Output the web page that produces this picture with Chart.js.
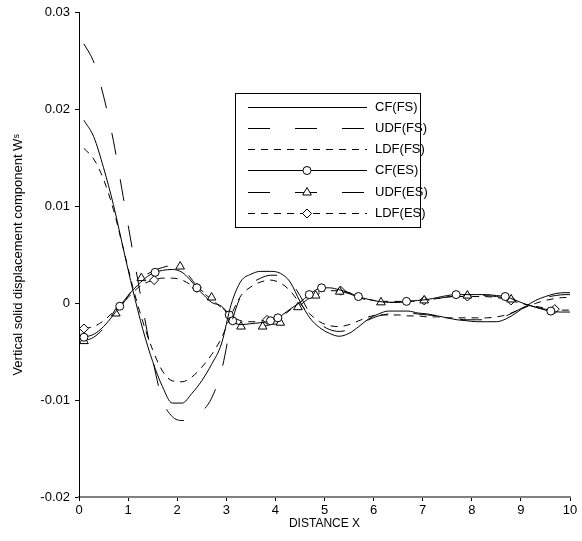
<!DOCTYPE html>
<html>
<head>
<meta charset="utf-8">
<script src="https://cdn.jsdelivr.net/npm/chart.js"></script>
<style>
  html, body { margin: 0; padding: 0; background: #fff; }
  #wrap { width: 582px; height: 541px; }
</style>
</head>
<body>
<div id="wrap"><canvas id="dispChart" width="582" height="541"></canvas></div>
<script>
// distance samples for the full-space (FS) curves
const fsX = [0.1, 0.3, 0.5, 0.7, 0.9, 1.1, 1.3, 1.5, 1.7, 1.9, 2.1, 2.3, 2.5, 2.7, 2.9, 3.1, 3.3, 3.5, 3.7, 3.9,
             4.1, 4.3, 4.5, 4.7, 4.9, 5.1, 5.3, 5.5, 5.7, 5.9, 6.1, 6.3, 6.5, 6.7, 6.9, 7.1, 7.3, 7.5, 7.7, 7.9,
             8.1, 8.3, 8.5, 8.7, 8.9, 9.1, 9.3, 9.5, 9.7, 9.9, 10.0];

const cfFs = [0.0189, 0.0172, 0.0140, 0.0102, 0.0057, 0.0013, -0.0027, -0.0060, -0.0086, -0.0103,
              -0.0103, -0.0093, -0.0080, -0.0063, -0.0042, -0.0001, 0.0023, 0.0030, 0.0033, 0.0033,
              0.0031, 0.0022, 0.0002, -0.0015, -0.0025, -0.0031, -0.0034, -0.0031, -0.0024, -0.0016,
              -0.0011, -0.0008, -0.0008, -0.0008, -0.0010, -0.0011, -0.0013, -0.0015, -0.0017, -0.0018,
              -0.0019, -0.0019, -0.0019, -0.0016, -0.0010, -0.0003, 0.0003, 0.0007, 0.0010, 0.0011, 0.0011];

const udfFs = [0.0268, 0.0249, 0.0214, 0.0168, 0.0110, 0.0052, -0.0005, -0.0058, -0.0100, -0.0117,
               -0.0121, -0.0119, -0.0112, -0.0098, -0.0070, -0.0022, 0.0008, 0.0020, 0.0026, 0.0029,
               0.0029, 0.0023, 0.0008, -0.0010, -0.0021, -0.0027, -0.0029, -0.0027, -0.0022, -0.0017,
               -0.0013, -0.0011, -0.0010, -0.0010, -0.0011, -0.0012, -0.0013, -0.0014, -0.0016, -0.0017,
               -0.0017, -0.0017, -0.0016, -0.0013, -0.0008, -0.0003, 0.0002, 0.0006, 0.0008, 0.0009, 0.0009];

const ldfFs = [0.0160, 0.0149, 0.0128, 0.0097, 0.0057, 0.0016, -0.0019, -0.0048, -0.0070, -0.0080,
               -0.0081, -0.0076, -0.0066, -0.0053, -0.0036, -0.0012, 0.0008, 0.0017, 0.0022, 0.0024,
               0.0021, 0.0013, 0.0000, -0.0011, -0.0019, -0.0023, -0.0024, -0.0022, -0.0018, -0.0014,
               -0.0012, -0.0012, -0.0012, -0.0013, -0.0013, -0.0014, -0.0014, -0.0015, -0.0015, -0.0015,
               -0.0015, -0.0015, -0.0014, -0.0012, -0.0008, -0.0004, 0.0000, 0.0003, 0.0005, 0.0006, 0.0006];

// elastic-soil (ES) curves, each with its own distance samples and marked points
const cfEsX = [0.1, 0.3, 0.5, 0.7, 0.83, 1.0, 1.2, 1.4, 1.55, 1.7, 1.9, 2.1, 2.25, 2.4, 2.55, 2.7, 2.9, 3.06,
               3.13, 3.3, 3.5, 3.7, 3.9, 4.05, 4.3, 4.5, 4.69, 4.94, 5.1, 5.3, 5.5, 5.69, 5.9, 6.1, 6.3, 6.5,
               6.67, 6.9, 7.1, 7.3, 7.5, 7.68, 7.9, 8.1, 8.3, 8.5, 8.68, 8.9, 9.1, 9.3, 9.5, 9.61, 9.8, 10.0];
const cfEsY = [-0.0035, -0.0032, -0.0024, -0.0012, -0.0003, 0.0008, 0.0019, 0.0028, 0.0032, 0.0034, 0.0035,
               0.0032, 0.0025, 0.0016, 0.0008, 0.0001, -0.0003, -0.0012, -0.0018, -0.0022, -0.0021, -0.0020,
               -0.0018, -0.0015, -0.0006, 0.0001, 0.0009, 0.0016, 0.0016, 0.0014, 0.0011, 0.0007, 0.0004,
               0.0002, 0.0001, 0.0001, 0.0002, 0.0003, 0.0004, 0.0006, 0.0008, 0.0009, 0.0009, 0.0009, 0.0009,
               0.0008, 0.0007, 0.0003, -0.0001, -0.0004, -0.0007, -0.0008, -0.0009, -0.0009];
const cfEsMarks = [0.1, 0.83, 1.55, 2.4, 3.06, 3.13, 3.9, 4.05, 4.69, 4.94, 5.69, 6.67, 7.68, 8.68, 9.61];

const udfEsX = [0.1, 0.3, 0.5, 0.75, 0.9, 1.1, 1.27, 1.5, 1.7, 1.9, 2.06, 2.2, 2.4, 2.55, 2.7, 2.9, 3.1, 3.3,
                3.5, 3.74, 3.9, 4.1, 4.3, 4.46, 4.65, 4.82, 5.0, 5.31, 5.5, 5.7, 5.9, 6.15, 6.4, 6.7, 7.03,
                7.3, 7.6, 7.91, 8.2, 8.5, 8.8, 9.0, 9.3, 9.6, 9.8, 10.0];
const udfEsY = [-0.0039, -0.0035, -0.0026, -0.00105, 0.0000, 0.0015, 0.0026, 0.0033, 0.0037, 0.0039,
                0.0038, 0.0031, 0.0018, 0.0011, 0.0006, -0.0003, -0.0016, -0.0024, -0.0025, -0.0024,
                -0.0022, -0.0020, -0.0010, -0.0004, 0.0004, 0.0008, 0.0012, 0.0012, 0.0010, 0.0006,
                0.0003, 0.0001, 0.0001, 0.0002, 0.0003, 0.0005, 0.0007, 0.0008, 0.0008, 0.0007,
                0.0004, 0.0001, -0.0004, -0.0007, -0.0008, -0.0009];
const udfEsMarks = [0.1, 0.75, 1.27, 2.06, 2.7, 3.3, 3.74, 4.1, 4.46, 4.82, 5.31, 6.15, 7.03, 7.91, 8.8];

const ldfEsX = [0.1, 0.3, 0.5, 0.7, 0.83, 1.0, 1.2, 1.35, 1.53, 1.7, 1.9, 2.1, 2.25, 2.4, 2.6, 2.8, 3.0, 3.2,
                3.4, 3.6, 3.83, 4.1, 4.3, 4.5, 4.7, 4.9, 5.1, 5.33, 5.5, 5.7, 5.9, 6.2, 6.5, 6.8, 7.03, 7.3,
                7.6, 7.91, 8.2, 8.5, 8.8, 9.0, 9.3, 9.5, 9.69, 9.85, 10.0];
const ldfEsY = [-0.0026, -0.0024, -0.0018, -0.0009, -0.0003, 0.0006, 0.0016, 0.0021, 0.0024, 0.0026,
                0.0026, 0.0024, 0.0020, 0.0016, 0.0008, 0.0000, -0.0009, -0.0016, -0.0019, -0.0019,
                -0.0017, -0.0014, -0.0007, 0.0001, 0.0008, 0.0012, 0.0013, 0.0013, 0.0011, 0.0007,
                0.0004, 0.0002, 0.0002, 0.0002, 0.0003, 0.0005, 0.0007, 0.0007, 0.0007, 0.0006,
                0.0003, 0.0000, -0.0003, -0.0005, -0.0006, -0.0007, -0.0007];
const ldfEsMarks = [0.1, 1.53, 2.4, 3.83, 5.33, 7.03, 7.91, 8.8, 9.69];

const yTicks = [-0.02, -0.01, 0, 0.01, 0.02, 0.03];

const toPts = (xs, ys) => xs.map((x, i) => ({ x: x, y: ys[i] }));
const markAt = (marks, r) => (ctx) => (ctx.raw && marks.includes(ctx.raw.x)) ? r : 0;

const LONG_DASH = [22, 25];
const SHORT_DASH = [7, 6];

function esSet(label, xs, ys, marks, style, r, dash) {
    return {
        label: label,
        data: toPts(xs, ys),
        borderColor: '#000',
        borderWidth: 1,
        borderDash: dash,
        pointStyle: style,
        pointRadius: markAt(marks, r),
        pointBackgroundColor: '#fff',
        pointBorderColor: '#000',
        pointBorderWidth: 1,
        legendRadius: r
    };
}

function fsSet(label, ys, dash) {
    return {
        label: label,
        data: toPts(fsX, ys),
        borderColor: '#000',
        borderWidth: 1,
        borderDash: dash,
        pointRadius: 0
    };
}

// boxed key with long line samples, drawn inside the plot
const legendBox = {
    id: 'legendBox',
    afterDatasetsDraw(chart) {
        const ctx = chart.ctx;
        const bx = 235, by = 93, bw = 185, bh = 134;
        ctx.save();
        ctx.fillStyle = '#fff';
        ctx.fillRect(bx, by, bw, bh);
        ctx.strokeStyle = '#000';
        ctx.lineWidth = 1;
        ctx.strokeRect(bx + 0.5, by + 0.5, bw, bh);
        chart.data.datasets.forEach((ds, i) => {
            const y = Math.round(by + 13.5 + i * 21.3) + 0.5;
            ctx.strokeStyle = '#000';
            ctx.lineWidth = 1;
            ctx.setLineDash(ds.borderDash || []);
            ctx.beginPath();
            ctx.moveTo(bx + 13, y);
            ctx.lineTo(bx + 132, y);
            ctx.stroke();
            ctx.setLineDash([]);
            if (ds.legendRadius) {
                ctx.fillStyle = '#fff';
                ctx.strokeStyle = '#000';
                Chart.helpers.drawPoint(ctx, { pointStyle: ds.pointStyle, radius: ds.legendRadius, borderWidth: 1, rotation: 0 }, bx + 72, y);
            }
            ctx.fillStyle = '#000';
            ctx.font = '13px "Liberation Sans", Arial, sans-serif';
            ctx.textBaseline = 'middle';
            ctx.textAlign = 'left';
            ctx.fillText(ds.label, bx + 140, y);
        });
        ctx.restore();
    }
};

const tickFont = { family: '"Liberation Sans", Arial, sans-serif', size: 13 };

new Chart(document.getElementById('dispChart'), {
    type: 'line',
    data: {
        datasets: [
            fsSet('CF(FS)', cfFs, []),
            fsSet('UDF(FS)', udfFs, LONG_DASH),
            fsSet('LDF(FS)', ldfFs, SHORT_DASH),
            esSet('CF(ES)', cfEsX, cfEsY, cfEsMarks, 'circle', 4, []),
            esSet('UDF(ES)', udfEsX, udfEsY, udfEsMarks, 'triangle', 5, LONG_DASH),
            esSet('LDF(ES)', ldfEsX, ldfEsY, ldfEsMarks, 'rectRot', 4.5, SHORT_DASH)
        ]
    },
    options: {
        responsive: false,
        animation: false,
        layout: { padding: { top: 10, right: 12, left: 0, bottom: 0 } },
        elements: { line: { cubicInterpolationMode: 'monotone' } },
        plugins: {
            legend: { display: false },
            tooltip: { enabled: false }
        },
        scales: {
            x: {
                type: 'linear',
                min: 0,
                max: 10,
                ticks: { stepSize: 1, color: '#000', font: tickFont, padding: 2, maxRotation: 0 },
                grid: { drawOnChartArea: false, drawTicks: true, tickLength: 4, color: '#000' },
                border: { display: true, color: '#808080', width: 2 },
                title: {
                    display: true,
                    text: 'DISTANCE X',
                    color: '#000',
                    font: { family: '"Liberation Sans", Arial, sans-serif', size: 12 },
                    padding: { top: 0, bottom: 10 }
                },
                afterFit: (s) => { s.height = 44; }
            },
            y: {
                type: 'linear',
                min: -0.02,
                max: 0.03,
                afterBuildTicks: (s) => { s.ticks = yTicks.map(v => ({ value: v })); },
                ticks: {
                    color: '#000',
                    font: tickFont,
                    padding: 5,
                    callback: (v) => String(Math.round(v * 100) / 100)
                },
                grid: { drawOnChartArea: false, drawTicks: true, tickLength: 4, color: '#000' },
                border: { display: true, color: '#000', width: 1 },
                title: {
                    display: true,
                    text: 'Vertical solid displacement component Wˢ',
                    color: '#000',
                    font: { family: '"Liberation Sans", Arial, sans-serif', size: 13 },
                    padding: { top: 11, bottom: 0 }
                },
                afterFit: (s) => { s.width = 79; }
            }
        }
    },
    plugins: [legendBox]
});
</script>
</body>
</html>
